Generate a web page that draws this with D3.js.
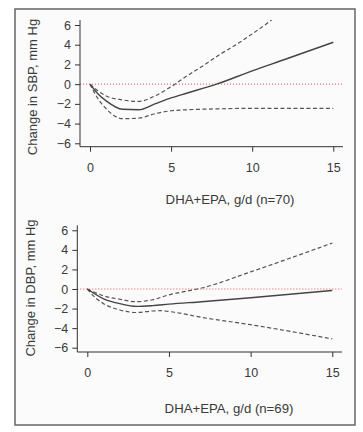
<!DOCTYPE html>
<html>
<head>
<meta charset="utf-8">
<script src="https://cdn.jsdelivr.net/npm/d3@7"></script>
<style>
body{margin:0;background:#fff;}
text{font-family:"Liberation Sans",Arial,sans-serif;fill:#3a3a3a;}
</style>
</head>
<body>
<script>
// top panel: SBP
var sbpFit = [[0,0],[0.5,-1.0],[1,-1.7],[2,-2.55],[3,-2.6],[4,-2.0],[5,-1.4],[6,-0.9],[7,-0.4],[7.8,0],[10,1.35],[12,2.5],[15,4.25]];
var sbpUpper = [[0,0],[0.5,-0.7],[1,-1.2],[2,-1.6],[3,-1.75],[4,-1.2],[5,-0.25],[6,0.85],[7,1.9],[8,3.0],[9,4.0],[10,5.1],[11.2,6.5]];
var sbpLower = [[0,0],[0.5,-1.5],[1,-2.5],[2,-3.5],[3,-3.45],[4,-3.0],[5,-2.7],[6,-2.6],[8,-2.5],[10,-2.45],[15,-2.45]];
// bottom panel: DBP
var dbpFit = [[0,0],[1,-1.0],[2,-1.5],[3,-1.78],[4,-1.7],[5,-1.55],[7,-1.3],[10,-0.9],[15,-0.15]];
var dbpUpper = [[0,0],[1,-0.7],[2,-1.05],[3,-1.3],[4,-1.1],[5,-0.6],[6,-0.25],[7,0.1],[10,1.75],[15,4.7]];
var dbpLower = [[0,0],[0.5,-0.9],[1,-1.5],[2,-2.15],[3,-2.4],[4,-2.25],[4.5,-2.22],[5,-2.3],[7,-2.9],[10,-3.65],[15,-5.1]];

var yTicks = [-6,-4,-2,0,2,4,6];
var yMinor = d3.range(-6,7,1);
var xTicks = [0,5,10,15];
var xMinor = d3.range(0,16,1);

var svg = d3.select('body').append('svg').attr('width',363).attr('height',432);

svg.append('rect').attr('x',15).attr('y',9).attr('width',340).attr('height',416)
   .attr('fill','#fbfbfb').attr('stroke','#666').attr('stroke-width',1.5);

function panel(cfg){
  var x = d3.scaleLinear().domain([0,15]).range([cfg.x0,cfg.x1]);
  var y = d3.scaleLinear().domain([-6,6]).range([cfg.yb,cfg.yt]);
  var g = svg.append('g');

  // zero reference
  g.append('line').attr('x1',cfg.ax).attr('x2',cfg.axEnd).attr('y1',y(0)).attr('y2',y(0))
   .attr('stroke','#e05050').attr('stroke-width',1).attr('stroke-dasharray','1,2');

  var line = d3.line().x(function(d){return x(d[0]);}).y(function(d){return y(d[1]);}).curve(d3.curveMonotoneX);
  g.append('path').attr('d',line(cfg.upper)).attr('fill','none').attr('stroke','#555').attr('stroke-width',1.2).attr('stroke-dasharray','4,2.5');
  g.append('path').attr('d',line(cfg.lower)).attr('fill','none').attr('stroke','#555').attr('stroke-width',1.2).attr('stroke-dasharray','4,2.5');
  g.append('path').attr('d',line(cfg.fit)).attr('fill','none').attr('stroke','#444').attr('stroke-width',1.4);

  // y axis
  var ya = g.append('g').attr('transform','translate('+cfg.ax+',0)');
  ya.call(d3.axisLeft(y).tickValues(yMinor).tickSize(2).tickSizeOuter(0).tickFormat(''));
  ya.call(d3.axisLeft(y).tickValues(yTicks).tickSize(5).tickSizeOuter(0).tickPadding(4));
  ya.select('.domain').remove();
  ya.append('line').attr('y1',cfg.yt-5).attr('y2',cfg.xa).attr('stroke','#333');
  ya.selectAll('text').style('font-size','12.5px').style('font-family','"Liberation Sans",Arial,sans-serif').attr('fill','#3a3a3a');
  ya.selectAll('.tick line').attr('stroke','#333');

  // x axis
  var xa = g.append('g').attr('transform','translate(0,'+cfg.xa+')');
  xa.call(d3.axisBottom(x).tickValues(xMinor).tickSize(3).tickSizeOuter(0).tickFormat(''));
  xa.call(d3.axisBottom(x).tickValues(xTicks).tickSize(5).tickSizeOuter(0).tickPadding(11));
  xa.select('.domain').remove();
  xa.append('line').attr('x1',cfg.ax).attr('x2',cfg.axEnd).attr('stroke','#333');
  xa.selectAll('text').style('font-size','12.5px').style('font-family','"Liberation Sans",Arial,sans-serif').attr('fill','#3a3a3a');
  xa.selectAll('.tick line').attr('stroke','#333');

  g.append('text').attr('x',cfg.titleX).attr('y',cfg.titleY).attr('text-anchor','middle')
   .style('font-size','13.2px').text(cfg.xTitle);
  g.append('text').attr('transform','translate('+cfg.ylabX+','+cfg.ylabY+') rotate(-90)')
   .attr('text-anchor','middle').style('font-size','13px').text(cfg.yTitle);
}

panel({x0:90,x1:333.3,yb:143.3,yt:25,ax:80,axEnd:343,xa:146.7,
  fit:sbpFit,upper:sbpUpper,lower:sbpLower,
  xTitle:'DHA+EPA, g/d (n=70)',titleX:230,titleY:204,
  yTitle:'Change in SBP, mm Hg',ylabX:37,ylabY:87});

panel({x0:87.3,x1:332.3,yb:347.7,yt:230.3,ax:77.3,axEnd:342,xa:352,
  fit:dbpFit,upper:dbpUpper,lower:dbpLower,
  xTitle:'DHA+EPA, g/d (n=69)',titleX:229,titleY:413,
  yTitle:'Change in DBP, mm Hg',ylabX:35,ylabY:288});
</script>
</body>
</html>
